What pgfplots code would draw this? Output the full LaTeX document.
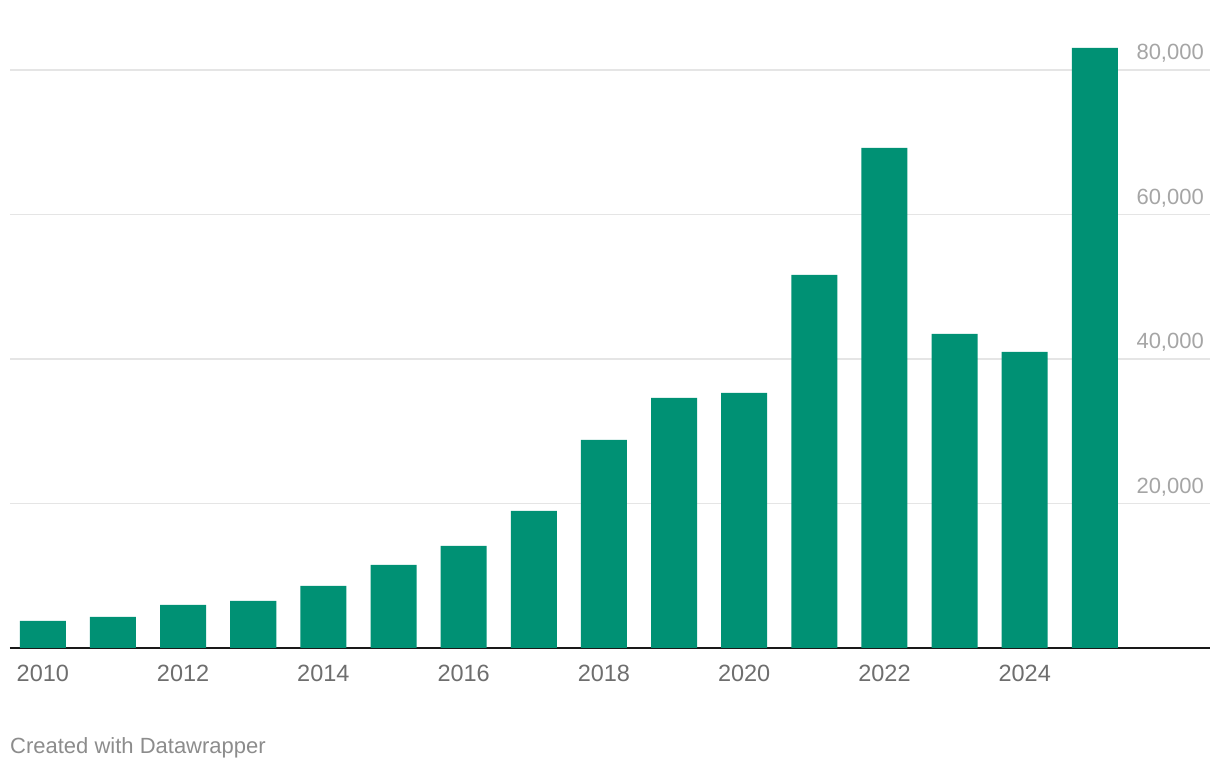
\documentclass[border=0pt]{standalone}
\usepackage{pgfplots}
\pgfplotsset{compat=1.18}
\usepackage{fontspec}
\setmainfont{Liberation Sans}
\definecolor{barc}{RGB}{0,145,116}
\definecolor{gridc}{RGB}{229,229,229}
\definecolor{xlab}{RGB}{110,110,110}
\definecolor{ylab}{RGB}{165,165,165}
\definecolor{foot}{RGB}{140,140,140}
\begin{document}
\begin{tikzpicture}
\path[use as bounding box] (0,0) rectangle (1220pt,770pt);
\begin{axis}[
  at={(10pt,122pt)}, anchor=south west,
  scale only axis, width=1200pt, height=614.125pt,
  xmin=-0.4684, xmax=16.642, ymin=0, ymax=85000,
  axis y line*=right,
  y axis line style={draw=none},
  axis x line*=bottom,
  x axis line style={-, color=black!90, line width=2pt},
  xtick={0,2,4,6,8,10,12,14},
  xticklabels={2010,2012,2014,2016,2018,2020,2022,2024},
  major tick length=0pt,
  xticklabel style={anchor=north, inner sep=0pt, yshift=-17pt, font=\fontsize{23.5}{23.5}\selectfont, text=xlab},
  ytick={20000,40000,60000,80000},
  scaled y ticks=false,
  ymajorgrids,
  grid style={color=gridc, line width=1.5pt},
  yticklabel pos=right,
  yticklabel style={anchor=south east, inner sep=0pt, xshift=-6pt, yshift=7pt, font=\fontsize{22}{22}\selectfont, text=ylab,
    /pgf/number format/.cd, fixed, 1000 sep={,}, assume math mode=true},
]
\addplot[ybar, bar width=46pt, fill=barc, draw=none] coordinates {
(0,3737) (1,4291) (2,5952) (3,6505) (4,8581) (5,11488) (6,14118) (7,18962)
(8,28789) (9,34602) (10,35294) (11,51626) (12,69204) (13,43460) (14,40969) (15,83045)
};
\end{axis}
\node[anchor=base west, inner sep=0pt, font=\fontsize{22}{22}\selectfont, text=foot] at (10pt,16pt) {Created with Datawrapper};
\end{tikzpicture}
\end{document}
